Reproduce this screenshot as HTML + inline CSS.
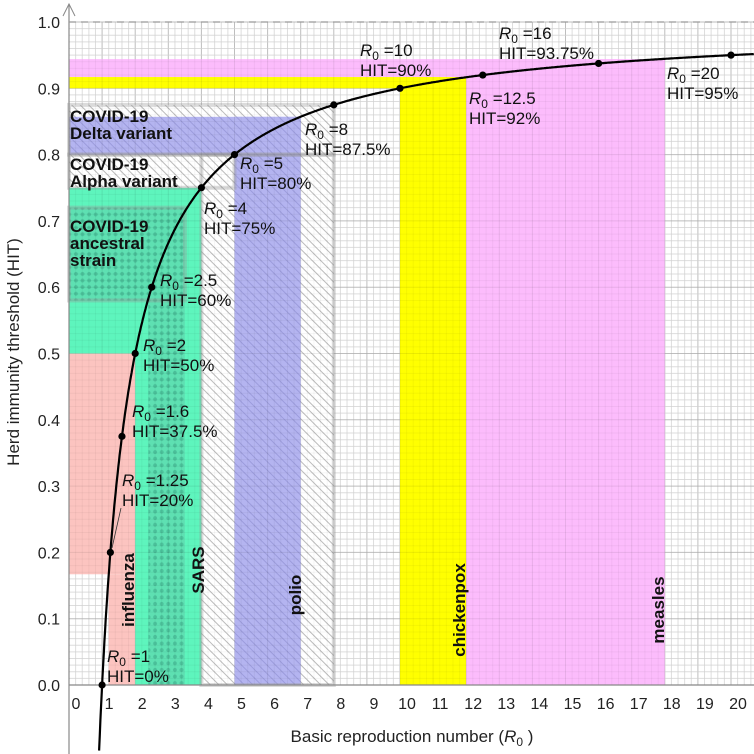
<!DOCTYPE html>
<html><head><meta charset="utf-8"><style>
body{margin:0;background:#fff}
svg{display:block;font-family:"Liberation Sans",sans-serif}
</style></head><body>
<svg id="c" width="754" height="754" viewBox="0 0 754 754">
<defs>
<pattern id="hatch" width="6" height="6" patternUnits="userSpaceOnUse" patternTransform="rotate(-45)">
<rect width="6" height="6" fill="#fff"/><line x1="0" y1="0" x2="0" y2="6" stroke="#bbb" stroke-width="2"/></pattern>
<pattern id="hatchb" width="6" height="6" patternUnits="userSpaceOnUse" patternTransform="rotate(-45)">
<rect width="6" height="6" fill="#b4b4f0"/><line x1="0" y1="0" x2="0" y2="6" stroke="#9c9cdc" stroke-width="2"/></pattern>
<pattern id="dots" width="6.6" height="6.6" patternUnits="userSpaceOnUse">
<rect width="6.6" height="6.6" fill="#5ee0b2"/><circle cx="3.3" cy="3.3" r="2" fill="#4cc39c"/></pattern>
</defs>
<g id="grid"></g>
<g id="regions"></g>
<g id="gridtop"></g>
<g id="axes"></g>
<g id="curve"></g>
<g id="labels"></g>
</svg>
<script>
const xTicks=[0,1,2,3,4,5,6,7,8,9,10,11,12,13,14,15,16,17,18,19,20];
const yTicks=[0,0.1,0.2,0.3,0.4,0.5,0.6,0.7,0.8,0.9,1.0];
const pointR0=[1,1.25,1.6,2,2.5,4,5,8,10,12.5,16,20];
const pointHIT=["0%","20%","37.5%","50%","60%","75%","80%","87.5%","90%","92%","93.75%","95%"];
const labelPos=[[107,661],[122,485],[132,416],[143,350],[160,285],[204,213],[240,168],[305,134],[360,55],[469,103],[499,38],[667,78]];
const diseases=["influenza","SARS","polio","chickenpox","measles"];
const diseaseR0=[[1.2,2],[2,4],[5,7],[10,12],[12,18]];
const ns="http://www.w3.org/2000/svg";
const X=r=>69+33.1*r, Y=h=>685-663*h;
function mk(p,t,a){const e=document.createElementNS(ns,t);for(const k in a)e.setAttribute(k,a[k]);p.appendChild(e);return e;}
const G=id=>document.getElementById(id);
const g=G('grid');
for(let i=0;;i++){const x=69+i*6.62;if(x>754)break;const ln=mk(g,'line',{x1:x,y1:22,x2:x,y2:685,stroke:i%5?'#e6e6e6':'#cfcfcf','stroke-width':1});

}
for(let i=0;i<=100;i++){const y=Y(i/100);const ln=mk(g,'line',{x1:69,y1:y,x2:754,y2:y,stroke:i%10?'#e6e6e6':'#cfcfcf','stroke-width':1});

}
const rg=G('regions');
function rect(r0,r1,h0,h1,fill,name,op){const e=mk(rg,'rect',{x:X(r0),y:Y(h1),width:X(r1)-X(r0),height:Y(h0)-Y(h1),fill:fill,opacity:op||1});

return e;}
rect(0,2,0.167,0.5,'#fcc4c0','influenza-range-band');
rect(diseaseR0[0][0],diseaseR0[0][1],0,0.167,'#fcc4c0','influenza-region');
rect(0,4,0.5,0.75,'#5ef5bd','sars-range-band');
rect(diseaseR0[1][0],diseaseR0[1][1],0,0.5,'#5ef5bd','sars-region');
rect(2.4,3.5,0,0.6,'url(#dots)','ancestral-strain-dots');
rect(0,3.5,0.58,0.72,'url(#dots)','ancestral-strain-box');
rect(4,8,0,0.8,'url(#hatch)','covid-variants-hatch');
rect(0,8,0.8,0.875,'url(#hatch)','delta-variant-band');
rect(0,4,0.75,0.8,'url(#hatch)','alpha-variant-band');
rect(4,5,0.75,0.8,'url(#hatch)','alpha-variant-band-2');
rect(0,7,0.8,0.857,'url(#hatchb)','polio-range-band');
rect(diseaseR0[2][0],diseaseR0[2][1],0,0.857,'url(#hatchb)','polio-region');
rect(0,12,0.9,0.917,'#ffff00','chickenpox-range-band');
rect(diseaseR0[3][0],diseaseR0[3][1],0,0.917,'#ffff00','chickenpox-region');
rect(0,18,0.917,0.944,'#fcbcfc','measles-range-band');
rect(diseaseR0[4][0],diseaseR0[4][1],0,0.944,'#fcbcfc','measles-region');
[[0,8,0.8,0.875],[0,5,0.75,0.8],[0,3.5,0.58,0.72],[4,8,0,0.8]].forEach(b=>{const e=mk(rg,'rect',{x:X(b[0]),y:Y(b[3]),width:X(b[1])-X(b[0]),height:Y(b[2])-Y(b[3]),fill:'none',stroke:'#999','stroke-opacity':0.35,'stroke-width':4});

});
const gt=G('gridtop');
for(let i=0;;i++){const x=69+i*6.62;if(x>754)break;mk(gt,'line',{x1:x,y1:22,x2:x,y2:685,stroke:'#000','stroke-opacity':i%5?0.04:0.08});}
for(let i=0;i<=100;i++){const y=Y(i/100);mk(gt,'line',{x1:69,y1:y,x2:754,y2:y,stroke:'#000','stroke-opacity':i%10?0.04:0.08});}
const ax=G('axes');
let e=mk(ax,'line',{x1:69,y1:685,x2:754,y2:685,stroke:'#888','stroke-width':1.2});

e=mk(ax,'line',{x1:69,y1:4,x2:69,y2:754,stroke:'#888','stroke-width':1.2});

mk(ax,'path',{d:'M63,16 L69,4 L75,16',fill:'none',stroke:'#888','stroke-width':1});
e=mk(ax,'line',{x1:69,y1:Y(1),x2:754,y2:Y(1),stroke:'#999','stroke-width':1.2,'stroke-dasharray':'7,5'});

xTicks.forEach(t=>{const tx=mk(ax,'text',{x:X(t)+7,y:709,'text-anchor':'middle','font-size':16,fill:'#222'});tx.textContent=t;

});
yTicks.forEach(t=>{const tx=mk(ax,'text',{x:60,y:Y(t)+6,'text-anchor':'end','font-size':16,fill:'#222'});tx.textContent=t.toFixed(1);

});
e=mk(ax,'text',{x:412,y:742,'text-anchor':'middle','font-size':17,fill:'#222'});
e.innerHTML='Basic reproduction number (<tspan font-style="italic">R</tspan><tspan font-size="12" dy="4">0</tspan><tspan dy="-4"> )</tspan>';

e=mk(ax,'text',{x:0,y:0,'text-anchor':'middle','font-size':17,fill:'#222',transform:'translate(19,352) rotate(-90)'});
e.textContent='Herd immunity threshold (HIT)';

const cv=G('curve');let d='';
for(let r=0.91;r<=21;r+=0.02){const x=X(r),y=Y(1-1/r);if(x>754)break;d+=(d?'L':'M')+x.toFixed(1)+','+y.toFixed(1);}
e=mk(cv,'path',{d:d,fill:'none',stroke:'#000','stroke-width':2.2});

pointR0.forEach(r=>{const c=mk(cv,'circle',{cx:X(r),cy:Y(1-1/r),r:3.6,fill:'#000'});

});
mk(cv,'line',{x1:121,y1:508,x2:112,y2:548,stroke:'#333','stroke-width':0.8});
const lb=G('labels');
pointR0.forEach((r,i)=>{const [x,y]=labelPos[i];
const t=mk(lb,'text',{x:x,y:y+1,'font-size':17,fill:'#111'});
t.innerHTML='<tspan font-style="italic">R</tspan><tspan font-size="12" dy="4">0</tspan><tspan dy="-4">  =</tspan>'+r;


const t2=mk(lb,'text',{x:x,y:y+21,'font-size':17,fill:'#111'});t2.textContent='HIT='+pointHIT[i];

});
const dpos=[[128,590],[198,570],[295,595],[459,610],[658,610]];
diseases.forEach((n,i)=>{const t=mk(lb,'text',{x:0,y:0,'text-anchor':'middle','font-size':17,'font-weight':'bold',fill:'#111',transform:`translate(${dpos[i][0]+6},${dpos[i][1]}) rotate(-90)`});t.textContent=n;

});
[[['COVID-19','Delta variant'],122],[['COVID-19','Alpha variant'],170],[['COVID-19','ancestral','strain'],232]].forEach(([ls,y])=>{ls.forEach((s,j)=>{const t=mk(lb,'text',{x:70,y:y+j*17,'font-size':17,'font-weight':'bold',fill:'#111'});t.textContent=s;

});});
</script>
</body></html>
